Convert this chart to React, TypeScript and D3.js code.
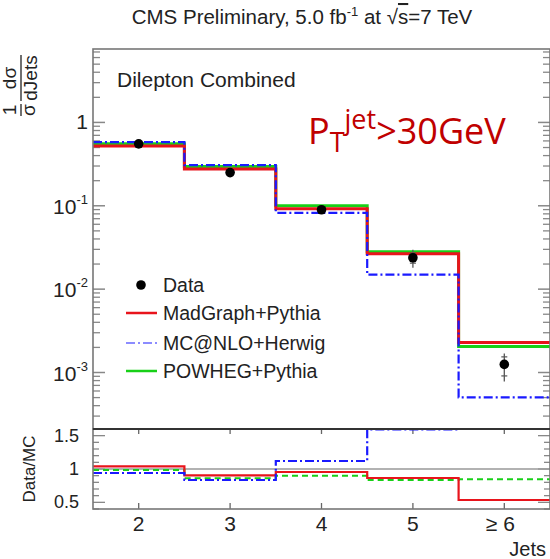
import React from "react";
import * as d3 from "d3";

// ---------- data ----------
const categories = ["2", "3", "4", "5", "≥ 6"];
const jetBins = [2, 3, 4, 5, 6];
const dataValues = [0.553, 0.25, 0.0896, 0.0238, 0.00125];
const dataErrHigh = [0.585, 0.262, 0.094, 0.0297, 0.00169];
const dataErrLow = [0.525, 0.239, 0.085, 0.0181, 0.00078];
const dataStatHigh = [0.57, 0.255, 0.092, 0.027, 0.00154];
const dataStatLow = [0.535, 0.245, 0.087, 0.0205, 0.00091];
const madgraph = [0.52, 0.277, 0.092, 0.0266, 0.00229];
const mcatnlo = [0.58, 0.307, 0.0824, 0.0149, 0.000502];
const powheg = [0.553, 0.296, 0.1, 0.0281, 0.00205];
const ratioMadgraph = [1.04, 0.905, 0.955, 0.865, 0.535];
const ratioMcatnlo = [0.94, 0.835, 1.12, 1.595, 2.5];
const ratioPowheg = [0.985, 0.86, 0.9, 0.835, 0.845];
const logMajorTicks = [1e-3, 1e-2, 1e-1, 1];
const logTickExp = ["-3", "-2", "-1", ""];
const ratioMajorTicks = [0.5, 1, 1.5];
const legendNames = ["Data", "MadGraph+Pythia", "MC@NLO+Herwig", "POWHEG+Pythia"];

const W = 550;
const H = 559;
const L = 93;
const R = 550;
const T = 49;
const MB = 429;
const RB = 509;

const RED = "#e8141c";
const GREEN = "#18d018";
const BLUE = "#1a1aff";
const FONT = "'Liberation Sans', Arial, Helvetica, sans-serif";

export default function App() {
  const x = d3.scaleLinear().domain([1.5, 6.5]).range([L, R]);
  const y = d3.scaleLog().domain([2.1e-4, 7.6]).range([MB, T]);
  const yr = d3.scaleLinear().domain([0.4, 1.6]).range([RB, MB]);

  const stepPts = (vals: number[]) => {
    const pts: [number, number][] = [];
    vals.forEach((v, i) => {
      pts.push([jetBins[i] - 0.5, v]);
      pts.push([jetBins[i] + 0.5, v]);
    });
    return pts;
  };
  const mainLine = d3
    .line<[number, number]>()
    .x((d) => x(d[0]))
    .y((d) => y(d[1]));
  const ratioLine = d3
    .line<[number, number]>()
    .x((d) => x(d[0]))
    .y((d) => yr(d[1]));

  // log minor ticks
  const minor: number[] = [];
  for (let e = -4; e <= 0; e++) {
    for (let m = 2; m <= 9; m++) {
      const v = m * Math.pow(10, e);
      if (v >= 2.1e-4 && v <= 7.6) minor.push(v);
    }
  }
  const rMinor: number[] = d3.range(0.4, 1.61, 0.1).map((v) => Math.round(v * 10) / 10);

  const blueDash = "9,3,2,3";
  const tickCol = "#888";

  return (
    <svg
      width={W}
      height={H}
      style={{ position: "absolute", left: 0, top: 0, background: "#fff" }}
      fontFamily={FONT}
    >
      <defs>
        <clipPath id="clipMain">
          <rect x={L} y={T} width={R - L} height={MB - T} />
        </clipPath>
        <clipPath id="clipRatio">
          <rect x={L} y={MB} width={R - L} height={RB - MB} />
        </clipPath>
      </defs>

      {/* Title */}
      <text x={302} y={24} fontSize={20.5} fill="#222" textAnchor="middle">
        CMS Preliminary, 5.0 fb
        <tspan fontSize={13} dy={-8}>-1</tspan>
        <tspan dy={8}> at </tspan>
        <tspan>√</tspan>
        <tspan textDecoration="overline">s</tspan>
        <tspan>=7 TeV</tspan>
      </text>

      {/* Y axis title: fraction rotated */}
      <g transform="translate(21,116) rotate(-90)" fontSize={19} fill="#222">
        <text x={6} y={-5} textAnchor="middle">1</text>
        <line x1={0} x2={12} y1={0} y2={0} stroke="#222" strokeWidth={1.3} />
        <text x={6} y={14} textAnchor="middle">σ</text>
        <text x={38} y={-5} textAnchor="middle">dσ</text>
        <line x1={15} x2={61} y1={0} y2={0} stroke="#222" strokeWidth={1.3} />
        <text x={38} y={16} textAnchor="middle">dJets</text>
      </g>

      {/* Ratio y title */}
      <text
        transform="translate(35,469) rotate(-90)"
        fontSize={17}
        fill="#222"
        textAnchor="middle"
      >
        Data/MC
      </text>

      {/* main ticks */}
      {logMajorTicks.map((v, i) => (
        <g key={"lm" + i}>
          <line x1={L} x2={L + 12} y1={y(v)} y2={y(v)} stroke={tickCol} strokeWidth={1.5} />
          <line x1={R} x2={R - 12} y1={y(v)} y2={y(v)} stroke={tickCol} strokeWidth={1.5} />
          {logTickExp[i] === "" ? (
            <text x={88} y={y(v) + 7} fontSize={21} fill="#222" textAnchor="end">1</text>
          ) : (
            <text x={88} y={y(v) + 8} fontSize={21} fill="#222" textAnchor="end">
              10<tspan fontSize={13} dy={-10}>{logTickExp[i]}</tspan>
            </text>
          )}
        </g>
      ))}
      {minor.map((v, i) => (
        <g key={"ln" + i}>
          <line x1={L} x2={L + 7} y1={y(v)} y2={y(v)} stroke={tickCol} strokeWidth={1.3} />
          <line x1={R} x2={R - 7} y1={y(v)} y2={y(v)} stroke={tickCol} strokeWidth={1.3} />
        </g>
      ))}

      {/* ratio ticks */}
      {rMinor.map((v, i) => {
        const major = ratioMajorTicks.includes(v);
        const len = major ? 12 : 6;
        return (
          <g key={"rt" + i}>
            <line x1={L} x2={L + len} y1={yr(v)} y2={yr(v)} stroke={tickCol} strokeWidth={1.3} />
            <line x1={R} x2={R - len} y1={yr(v)} y2={yr(v)} stroke={tickCol} strokeWidth={1.3} />
          </g>
        );
      })}
      {ratioMajorTicks.map((v) => (
        <text key={"rl" + v} x={79} y={yr(v) + 6} fontSize={18} fill="#222" textAnchor="end">
          {v}
        </text>
      ))}

      {/* x ticks */}
      {jetBins.map((b, i) => (
        <g key={"xt" + i}>
          <line x1={x(b)} x2={x(b)} y1={RB} y2={RB - 6} stroke="#666" strokeWidth={1.3} />
          <line x1={x(b)} x2={x(b)} y1={MB} y2={MB + 5} stroke="#666" strokeWidth={1.3} />
          <text x={x(b) + (i === 4 ? -4 : 0)} y={531} fontSize={21} fill="#222" textAnchor="middle">
            {categories[i]}
          </text>
        </g>
      ))}
      <text x={546} y={556} fontSize={20} fill="#222" textAnchor="end">Jets</text>

      {/* main histograms */}
      <g clipPath="url(#clipMain)" fill="none">
        <path d={mainLine(stepPts(powheg)) || ""} stroke={GREEN} strokeWidth={3} />
        <path d={mainLine(stepPts(madgraph)) || ""} stroke={RED} strokeWidth={3} />
        <path d={mainLine(stepPts(mcatnlo)) || ""} stroke={BLUE} strokeWidth={2.2} strokeDasharray={blueDash} />
      </g>

      {/* data */}
      {jetBins.map((b, i) => (
        <g key={"d" + i}>
          <line x1={x(b)} x2={x(b)} y1={y(dataErrLow[i])} y2={y(dataErrHigh[i])} stroke="#555" strokeWidth={1.3} />
          {i >= 3 && (
            <>
              <line x1={x(b) - 3} x2={x(b) + 3} y1={y(dataStatLow[i])} y2={y(dataStatLow[i])} stroke="#555" strokeWidth={1.2} />
              <line x1={x(b) - 3} x2={x(b) + 3} y1={y(dataStatHigh[i])} y2={y(dataStatHigh[i])} stroke="#555" strokeWidth={1.2} />
            </>
          )}
          <circle cx={x(b)} cy={y(dataValues[i])} r={4.8} fill="#000" />
        </g>
      ))}

      {/* ratio */}
      <line x1={L} x2={R} y1={yr(1)} y2={yr(1)} stroke="#999" strokeWidth={1.5} />
      <g clipPath="url(#clipRatio)" fill="none">
        <path d={ratioLine(stepPts(ratioPowheg)) || ""} stroke={GREEN} strokeWidth={2} strokeDasharray="6,4" />
        <path d={ratioLine(stepPts(ratioMadgraph)) || ""} stroke={RED} strokeWidth={2.2} />
        <path d={ratioLine(stepPts(ratioMcatnlo)) || ""} stroke={BLUE} strokeWidth={2.2} strokeDasharray={blueDash} />
      </g>

      {/* frames */}
      <rect x={L} y={T} width={R - L} height={MB - T} fill="none" stroke="#777" strokeWidth={1.6} />
      <rect x={L} y={MB} width={R - L} height={RB - MB} fill="none" stroke="#777" strokeWidth={1.6} />
      <line x1={L} x2={R} y1={MB} y2={MB} stroke="#333" strokeWidth={2} />

      {/* labels */}
      <text x={117} y={87} fontSize={21} fill="#222">Dilepton Combined</text>
      <text x={308} y={144} fontSize={36} fill="#c00000" fontFamily="'Open Sans', 'Noto Sans', sans-serif">
        P<tspan fontSize={27} dy={8}>T</tspan>
        <tspan fontSize={27} dy={-23}>jet</tspan>
        <tspan dy={15}>&gt;30GeV</tspan>
      </text>

      {/* legend */}
      <g fontSize={19.5} fill="#222">
        <circle cx={141} cy={285} r={4.8} fill="#000" />
        <text x={163} y={292}>{legendNames[0]}</text>
        <line x1={126} x2={157} y1={313} y2={313} stroke={RED} strokeWidth={2.5} />
        <text x={163} y={320}>{legendNames[1]}</text>
        <line x1={126} x2={157} y1={343} y2={343} stroke={BLUE} strokeWidth={1.2} strokeDasharray={blueDash} />
        <text x={163} y={350}>{legendNames[2]}</text>
        <line x1={126} x2={157} y1={371} y2={371} stroke={GREEN} strokeWidth={2.5} />
        <text x={163} y={378}>{legendNames[3]}</text>
      </g>
    </svg>
  );
}
